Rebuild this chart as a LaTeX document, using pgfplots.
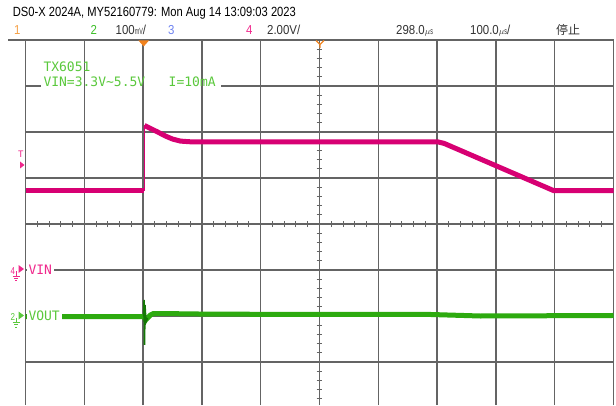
\documentclass[border=0pt]{standalone}
\usepackage{graphicx}
\usepackage{pgfplots}
\pgfplotsset{compat=1.18}
\usepackage{fontspec}
\setmainfont{Liberation Sans}
\newfontfamily\hdr[FakeStretch=0.8]{Liberation Sans}
\newfontfamily\hdrb[FakeStretch=0.88]{Liberation Sans}
\newfontfamily\tinyu[FakeStretch=0.6]{Liberation Sans}
\newfontfamily\mono{DejaVu Sans Mono}
\newfontfamily\cjk{Noto Sans CJK SC}

\definecolor{gridc}{RGB}{100,100,100}
\definecolor{pinktr}{RGB}{215,0,115}
\definecolor{greentr}{RGB}{45,170,15}
\definecolor{greendk}{RGB}{20,120,5}
\definecolor{lblgreen}{RGB}{90,200,60}
\definecolor{lblpink}{RGB}{240,40,140}
\definecolor{ch1}{RGB}{245,160,70}
\definecolor{ch2}{RGB}{60,190,40}
\definecolor{ch3}{RGB}{110,130,240}
\definecolor{trig}{RGB}{240,130,30}
\definecolor{txt}{RGB}{50,50,50}

% small condensed unit, as the scope prints it
\newcommand\un[1]{{\tinyu\fontsize{9}{9}\selectfont #1}}

\begin{document}
\begin{tikzpicture}
\useasboundingbox (0,0) rectangle (616pt,405pt);
\begin{axis}[at={(25.5pt,0pt)}, anchor=south west, scale only axis,
    width=588pt, height=365pt,
    xmin=-202, xmax=798, ymin=0.0652, ymax=8,
    xtick={-202,-102,...,798}, ytick={1,...,8},
    xticklabels={}, yticklabels={}, major tick length=0pt,
    axis line style={draw=none},
    grid=major, grid style={draw=gridc, line width=1.3pt}]
    % minor ticks on the centre axes
    \pgfplotsinvokeforeach{-182,-162,...,778}{
        \draw[gridc, line width=1pt] (axis cs:#1,3.93) -- (axis cs:#1,4.07);}
    \pgfplotsinvokeforeach{0.2,0.4,...,7.9}{
        \draw[gridc, line width=1pt] (axis cs:293,#1) -- (axis cs:303,#1);}
    % label TX6051 hides the grid line under it
    \fill[white] (axis cs:-176,6.955) rectangle (axis cs:130,7.04);
    \pgfplotsinvokeforeach{-102,-2,98}{
        \draw[gridc, line width=1.3pt] (axis cs:#1,6.94) -- (axis cs:#1,7.05);}

    % VIN, 2.00 V/div, ground at 3.022 div
    \addplot[pinktr, line width=5pt, y filter/.expression={y/2+3.022}]
        coordinates {(-202,3.40) (-100,3.40) (-0.5,3.40)};
    \addplot[pinktr, line width=1.2pt, y filter/.expression={y/2+3.022}]
        coordinates {(0,3.40) (0,6.24)};
    \addplot[pinktr, line width=5pt, y filter/.expression={y/2+3.022}]
        coordinates {
            (0.4,6.24) (10.6,6.11) (22.5,5.96) (36.1,5.78) (48,5.65)
            (61.6,5.56) (78.6,5.53) (200,5.53) (498.7,5.53) (510,5.46)
            (696,3.41) (798,3.41)
        };

    % VOUT, 100 mV/div, ground at 2 div
    \addplot[greentr, line width=5pt, y filter/.expression={y/100+2}]
        coordinates {
            (-202,-1.1) (-100,-1.1) (-1.2,-1.1) (2.9,-8) (5.5,-4.3)
            (10.6,2.2) (15.7,5.4) (27.6,5.4) (95.6,4.3) (265.7,3.3)
            (486.7,3.3) (571.7,0) (798,1.1)
        };
    \addplot[greendk, line width=1.6pt, y filter/.expression={y/100+2}]
        coordinates {(-1.2,-1.1) (-0.3,34.8) (0.4,-63) (1.2,23.9) (2.9,-13) (5.5,-4.3)};
\end{axis}

\begin{scope}[shift={(0pt,405pt)}, x=1pt, y=-1pt]
    \draw[gridc, line width=1.3pt] (8,40) -- (26,40);
    % header
    \node[anchor=base west, inner sep=0, text=black] at (12.7,16.7)
        {\resizebox{283pt}{9.3pt}{\hdr DS0-X 2024A, MY52160779: Mon Aug 14 13:09:03 2023}};
    \begin{scope}[every node/.style={anchor=base west, inner sep=0, font=\hdrb\fontsize{13}{13}\selectfont}]
        \node[text=ch1] at (14,34.3) {1};
        \node[text=ch2] at (90.5,34.3) {2};
        \node[text=txt] at (115.5,34.3) {100\un{mV}/};
        \node[text=ch3] at (168,34.3) {3};
        \node[text=lblpink] at (246,34.3) {4};
        \node[text=txt] at (267,34.3) {2.00V/};
        \node[text=txt] at (396,34.3) {298.0\un{$\mu$s}};
        \node[text=txt] at (470,34.3) {100.0\un{$\mu$s}/};
    \end{scope}
    \node[anchor=base west, inner sep=0, text=txt, font=\cjk\fontsize{12}{12}\selectfont] at (556,34.3) {停止};

    % trigger markers
    \fill[trig] (138.5,40.5) -- (149,40.5) -- (143.7,46.5) -- cycle;
    \draw[trig, line width=1.2pt] (316,40.5) -- (320,44.5) -- (324,40.5) (320,44.5) -- (320,48);
    \node[anchor=base west, inner sep=0, text=lblpink, font=\mono\fontsize{9}{9}\selectfont] at (18,157.3) {T};
    \fill[lblpink] (20,161.5) -- (20,168.5) -- (24.5,165) -- cycle;

    % text on the screen
    \begin{scope}[every node/.style={anchor=base west, inner sep=0, font=\mono\fontsize{13}{13}\selectfont}]
        \node[text=lblgreen] at (43.3,71.7) {TX6051};
        \node[text=lblgreen] at (43.3,86.7) {VIN=3.3V\textasciitilde5.5V\ \ \ I=10mA};
        \fill[white] (26.5,263) rectangle (54,276);
        \node[text=lblpink] at (28.3,274) {VIN};
        \fill[white] (26.5,307) rectangle (62,322);
        \node[text=lblgreen] at (28.3,320) {VOUT};
    \end{scope}

    % channel markers
    \node[anchor=base west, inner sep=0, text=lblpink, font=\hdr\fontsize{10}{10}\selectfont] at (10.5,274) {4};
    \fill[lblpink] (18.5,265) -- (18.5,273) -- (24,269) -- cycle;
    \draw[lblpink, line width=0.8pt] (16,271) -- (16,276) (12.5,276) -- (19.5,276) (14,278.3) -- (18,278.3) (15.2,280.5) -- (16.8,280.5);
    \node[anchor=base west, inner sep=0, text=lblgreen, font=\hdr\fontsize{10}{10}\selectfont] at (10.5,320.5) {2};
    \fill[lblgreen] (18.5,311.5) -- (18.5,319.5) -- (24,315.5) -- cycle;
    \draw[lblgreen, line width=0.8pt] (16,317.5) -- (16,322.5) (12.5,322.5) -- (19.5,322.5) (14,324.8) -- (18,324.8) (15.2,327) -- (16.8,327);
\end{scope}
\end{tikzpicture}
\end{document}
